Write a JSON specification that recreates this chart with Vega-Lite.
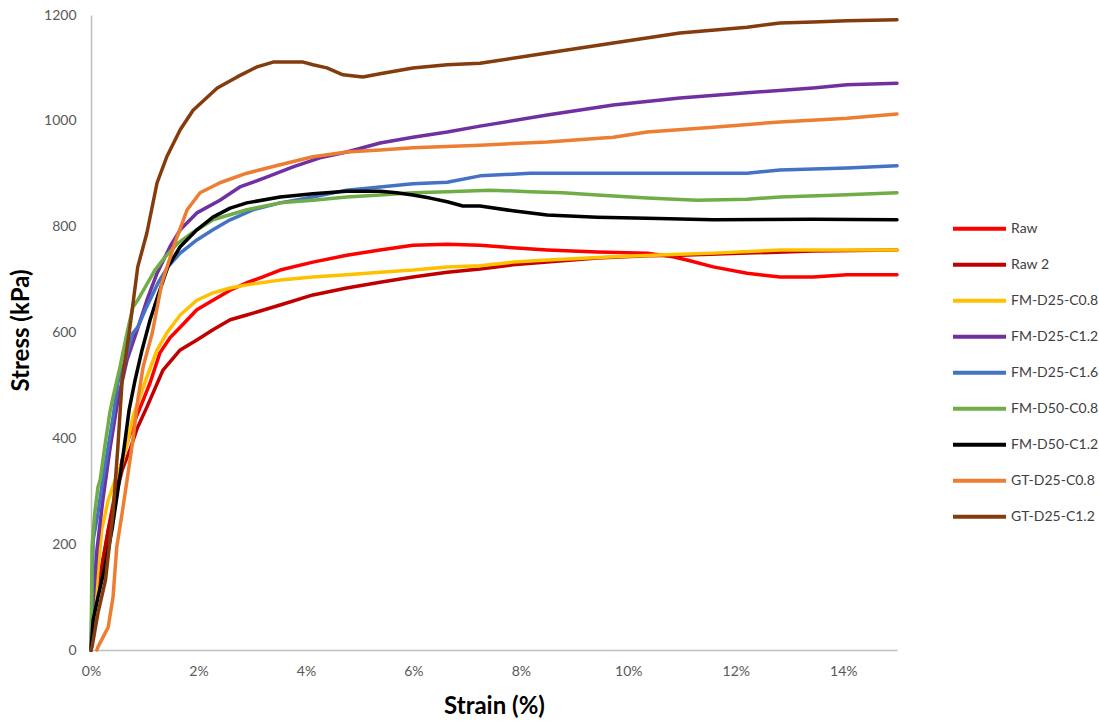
{
"$schema": "https://vega.github.io/schema/vega-lite/v6.json",
"width": 806, "height": 635,
"autosize": {"type": "none"},
"padding": {"left": 91, "top": 15, "right": 202, "bottom": 71},
"background": "white",
"config": {"font": "Lato", "view": {"stroke": null},
 "axis": {"grid": false, "ticks": false, "domainColor": "#bfbfbf", "domainWidth": 1.5, "labelColor": "#595959", "labelFontSize": 14, "labelFlush": false, "titleColor": "#000000", "titleFontSize": 24, "titleFontWeight": "bold"}},
"datasets": {
"raw": [
{"series":"Raw","strain":0,"stress":0},{"series":"Raw","strain":0.07,"stress":81},{"series":"Raw","strain":0.2,"stress":157},{"series":"Raw","strain":0.32,"stress":227},{"series":"Raw","strain":0.45,"stress":297},{"series":"Raw","strain":0.58,"stress":359},{"series":"Raw","strain":0.69,"stress":397},{"series":"Raw","strain":0.82,"stress":435},{"series":"Raw","strain":0.95,"stress":467},{"series":"Raw","strain":1.1,"stress":505},{"series":"Raw","strain":1.28,"stress":561},{"series":"Raw","strain":1.47,"stress":590},{"series":"Raw","strain":1.66,"stress":610},{"series":"Raw","strain":1.97,"stress":643},{"series":"Raw","strain":2.27,"stress":661},{"series":"Raw","strain":2.59,"stress":680},{"series":"Raw","strain":2.9,"stress":694},{"series":"Raw","strain":3.2,"stress":705},{"series":"Raw","strain":3.52,"stress":718},{"series":"Raw","strain":4.13,"stress":733},{"series":"Raw","strain":4.76,"stress":746},{"series":"Raw","strain":5.38,"stress":756},{"series":"Raw","strain":5.99,"stress":765},{"series":"Raw","strain":6.63,"stress":767},{"series":"Raw","strain":7.24,"stress":765},{"series":"Raw","strain":7.85,"stress":760},{"series":"Raw","strain":8.49,"stress":756},{"series":"Raw","strain":9.42,"stress":752},{"series":"Raw","strain":10.35,"stress":750},{"series":"Raw","strain":10.83,"stress":743},{"series":"Raw","strain":11.09,"stress":737},{"series":"Raw","strain":11.58,"stress":724},{"series":"Raw","strain":12.21,"stress":712},{"series":"Raw","strain":12.82,"stress":705},{"series":"Raw","strain":13.44,"stress":705},{"series":"Raw","strain":14.07,"stress":709},{"series":"Raw","strain":15,"stress":709},
{"series":"Raw 2","strain":0,"stress":0},{"series":"Raw 2","strain":0.07,"stress":76},{"series":"Raw 2","strain":0.19,"stress":151},{"series":"Raw 2","strain":0.32,"stress":225},{"series":"Raw 2","strain":0.45,"stress":287},{"series":"Raw 2","strain":0.58,"stress":340},{"series":"Raw 2","strain":0.73,"stress":380},{"series":"Raw 2","strain":0.86,"stress":419},{"series":"Raw 2","strain":1.04,"stress":459},{"series":"Raw 2","strain":1.34,"stress":529},{"series":"Raw 2","strain":1.66,"stress":567},{"series":"Raw 2","strain":1.97,"stress":586},{"series":"Raw 2","strain":2.27,"stress":605},{"series":"Raw 2","strain":2.59,"stress":624},{"series":"Raw 2","strain":2.9,"stress":633},{"series":"Raw 2","strain":3.52,"stress":652},{"series":"Raw 2","strain":4.13,"stress":671},{"series":"Raw 2","strain":4.76,"stress":684},{"series":"Raw 2","strain":5.38,"stress":695},{"series":"Raw 2","strain":5.99,"stress":705},{"series":"Raw 2","strain":6.63,"stress":714},{"series":"Raw 2","strain":7.24,"stress":720},{"series":"Raw 2","strain":7.85,"stress":728},{"series":"Raw 2","strain":8.49,"stress":733},{"series":"Raw 2","strain":9.42,"stress":741},{"series":"Raw 2","strain":10.35,"stress":745},{"series":"Raw 2","strain":10.96,"stress":746},{"series":"Raw 2","strain":12.21,"stress":750},{"series":"Raw 2","strain":13.44,"stress":754},{"series":"Raw 2","strain":15,"stress":756},
{"series":"FM-D25-C0.8","strain":0,"stress":0},{"series":"FM-D25-C0.8","strain":0.07,"stress":76},{"series":"FM-D25-C0.8","strain":0.13,"stress":151},{"series":"FM-D25-C0.8","strain":0.2,"stress":227},{"series":"FM-D25-C0.8","strain":0.32,"stress":283},{"series":"FM-D25-C0.8","strain":0.45,"stress":321},{"series":"FM-D25-C0.8","strain":0.58,"stress":353},{"series":"FM-D25-C0.8","strain":0.69,"stress":397},{"series":"FM-D25-C0.8","strain":0.78,"stress":440},{"series":"FM-D25-C0.8","strain":0.87,"stress":467},{"series":"FM-D25-C0.8","strain":1.04,"stress":516},{"series":"FM-D25-C0.8","strain":1.23,"stress":567},{"series":"FM-D25-C0.8","strain":1.41,"stress":599},{"series":"FM-D25-C0.8","strain":1.66,"stress":633},{"series":"FM-D25-C0.8","strain":1.97,"stress":661},{"series":"FM-D25-C0.8","strain":2.27,"stress":675},{"series":"FM-D25-C0.8","strain":2.59,"stress":684},{"series":"FM-D25-C0.8","strain":2.9,"stress":690},{"series":"FM-D25-C0.8","strain":3.52,"stress":699},{"series":"FM-D25-C0.8","strain":4.13,"stress":705},{"series":"FM-D25-C0.8","strain":4.76,"stress":709},{"series":"FM-D25-C0.8","strain":5.38,"stress":714},{"series":"FM-D25-C0.8","strain":5.99,"stress":718},{"series":"FM-D25-C0.8","strain":6.63,"stress":724},{"series":"FM-D25-C0.8","strain":7.24,"stress":726},{"series":"FM-D25-C0.8","strain":7.85,"stress":733},{"series":"FM-D25-C0.8","strain":8.49,"stress":737},{"series":"FM-D25-C0.8","strain":9.72,"stress":743},{"series":"FM-D25-C0.8","strain":10.96,"stress":748},{"series":"FM-D25-C0.8","strain":11.58,"stress":750},{"series":"FM-D25-C0.8","strain":12.82,"stress":756},{"series":"FM-D25-C0.8","strain":15,"stress":756},
{"series":"FM-D25-C1.2","strain":0,"stress":0},{"series":"FM-D25-C1.2","strain":0.04,"stress":94},{"series":"FM-D25-C1.2","strain":0.11,"stress":189},{"series":"FM-D25-C1.2","strain":0.22,"stress":283},{"series":"FM-D25-C1.2","strain":0.35,"stress":378},{"series":"FM-D25-C1.2","strain":0.5,"stress":472},{"series":"FM-D25-C1.2","strain":0.67,"stress":548},{"series":"FM-D25-C1.2","strain":0.86,"stress":605},{"series":"FM-D25-C1.2","strain":1.04,"stress":661},{"series":"FM-D25-C1.2","strain":1.23,"stress":712},{"series":"FM-D25-C1.2","strain":1.47,"stress":762},{"series":"FM-D25-C1.2","strain":1.66,"stress":794},{"series":"FM-D25-C1.2","strain":1.97,"stress":826},{"series":"FM-D25-C1.2","strain":2.4,"stress":850},{"series":"FM-D25-C1.2","strain":2.77,"stress":875},{"series":"FM-D25-C1.2","strain":3.28,"stress":894},{"series":"FM-D25-C1.2","strain":3.76,"stress":913},{"series":"FM-D25-C1.2","strain":4.26,"stress":930},{"series":"FM-D25-C1.2","strain":4.76,"stress":941},{"series":"FM-D25-C1.2","strain":5.38,"stress":958},{"series":"FM-D25-C1.2","strain":5.99,"stress":969},{"series":"FM-D25-C1.2","strain":6.63,"stress":979},{"series":"FM-D25-C1.2","strain":7.24,"stress":990},{"series":"FM-D25-C1.2","strain":8.49,"stress":1011},{"series":"FM-D25-C1.2","strain":9.72,"stress":1030},{"series":"FM-D25-C1.2","strain":10.96,"stress":1043},{"series":"FM-D25-C1.2","strain":12.21,"stress":1053},{"series":"FM-D25-C1.2","strain":13.44,"stress":1062},{"series":"FM-D25-C1.2","strain":14.07,"stress":1068},{"series":"FM-D25-C1.2","strain":15,"stress":1071},
{"series":"FM-D25-C1.6","strain":0,"stress":0},{"series":"FM-D25-C1.6","strain":0.02,"stress":94},{"series":"FM-D25-C1.6","strain":0.04,"stress":208},{"series":"FM-D25-C1.6","strain":0.13,"stress":259},{"series":"FM-D25-C1.6","strain":0.22,"stress":321},{"series":"FM-D25-C1.6","strain":0.32,"stress":384},{"series":"FM-D25-C1.6","strain":0.41,"stress":440},{"series":"FM-D25-C1.6","strain":0.5,"stress":505},{"series":"FM-D25-C1.6","strain":0.6,"stress":535},{"series":"FM-D25-C1.6","strain":0.69,"stress":567},{"series":"FM-D25-C1.6","strain":0.78,"stress":599},{"series":"FM-D25-C1.6","strain":0.87,"stress":610},{"series":"FM-D25-C1.6","strain":1.01,"stress":643},{"series":"FM-D25-C1.6","strain":1.25,"stress":694},{"series":"FM-D25-C1.6","strain":1.43,"stress":724},{"series":"FM-D25-C1.6","strain":1.66,"stress":750},{"series":"FM-D25-C1.6","strain":1.97,"stress":775},{"series":"FM-D25-C1.6","strain":2.27,"stress":794},{"series":"FM-D25-C1.6","strain":2.59,"stress":813},{"series":"FM-D25-C1.6","strain":3.02,"stress":832},{"series":"FM-D25-C1.6","strain":3.52,"stress":845},{"series":"FM-D25-C1.6","strain":4.13,"stress":856},{"series":"FM-D25-C1.6","strain":4.76,"stress":869},{"series":"FM-D25-C1.6","strain":5.38,"stress":875},{"series":"FM-D25-C1.6","strain":5.99,"stress":881},{"series":"FM-D25-C1.6","strain":6.63,"stress":884},{"series":"FM-D25-C1.6","strain":7.24,"stress":896},{"series":"FM-D25-C1.6","strain":8.17,"stress":901},{"series":"FM-D25-C1.6","strain":10.35,"stress":901},{"series":"FM-D25-C1.6","strain":12.21,"stress":901},{"series":"FM-D25-C1.6","strain":12.82,"stress":907},{"series":"FM-D25-C1.6","strain":14.07,"stress":911},{"series":"FM-D25-C1.6","strain":15,"stress":915},
{"series":"FM-D50-C0.8","strain":0,"stress":0},{"series":"FM-D50-C0.8","strain":0.01,"stress":94},{"series":"FM-D50-C0.8","strain":0.02,"stress":195},{"series":"FM-D50-C0.8","strain":0.07,"stress":259},{"series":"FM-D50-C0.8","strain":0.13,"stress":308},{"series":"FM-D50-C0.8","strain":0.17,"stress":321},{"series":"FM-D50-C0.8","strain":0.26,"stress":387},{"series":"FM-D50-C0.8","strain":0.35,"stress":448},{"series":"FM-D50-C0.8","strain":0.41,"stress":478},{"series":"FM-D50-C0.8","strain":0.54,"stress":535},{"series":"FM-D50-C0.8","strain":0.67,"stress":599},{"series":"FM-D50-C0.8","strain":0.78,"stress":648},{"series":"FM-D50-C0.8","strain":0.87,"stress":661},{"series":"FM-D50-C0.8","strain":1.01,"stress":686},{"series":"FM-D50-C0.8","strain":1.19,"stress":718},{"series":"FM-D50-C0.8","strain":1.38,"stress":743},{"series":"FM-D50-C0.8","strain":1.62,"stress":769},{"series":"FM-D50-C0.8","strain":1.88,"stress":788},{"series":"FM-D50-C0.8","strain":2.27,"stress":813},{"series":"FM-D50-C0.8","strain":2.9,"stress":832},{"series":"FM-D50-C0.8","strain":3.52,"stress":845},{"series":"FM-D50-C0.8","strain":4.13,"stress":850},{"series":"FM-D50-C0.8","strain":4.76,"stress":856},{"series":"FM-D50-C0.8","strain":5.38,"stress":860},{"series":"FM-D50-C0.8","strain":5.99,"stress":864},{"series":"FM-D50-C0.8","strain":6.63,"stress":866},{"series":"FM-D50-C0.8","strain":7.43,"stress":869},{"series":"FM-D50-C0.8","strain":8.17,"stress":866},{"series":"FM-D50-C0.8","strain":8.78,"stress":864},{"series":"FM-D50-C0.8","strain":9.42,"stress":860},{"series":"FM-D50-C0.8","strain":10.35,"stress":854},{"series":"FM-D50-C0.8","strain":11.28,"stress":850},{"series":"FM-D50-C0.8","strain":12.21,"stress":852},{"series":"FM-D50-C0.8","strain":12.82,"stress":856},{"series":"FM-D50-C0.8","strain":13.94,"stress":860},{"series":"FM-D50-C0.8","strain":15,"stress":864},
{"series":"FM-D50-C1.2","strain":0,"stress":0},{"series":"FM-D50-C1.2","strain":0.04,"stress":57},{"series":"FM-D50-C1.2","strain":0.13,"stress":100},{"series":"FM-D50-C1.2","strain":0.26,"stress":157},{"series":"FM-D50-C1.2","strain":0.39,"stress":227},{"series":"FM-D50-C1.2","strain":0.5,"stress":302},{"series":"FM-D50-C1.2","strain":0.61,"stress":378},{"series":"FM-D50-C1.2","strain":0.71,"stress":454},{"series":"FM-D50-C1.2","strain":0.82,"stress":510},{"series":"FM-D50-C1.2","strain":0.95,"stress":567},{"series":"FM-D50-C1.2","strain":1.1,"stress":624},{"series":"FM-D50-C1.2","strain":1.25,"stress":671},{"series":"FM-D50-C1.2","strain":1.43,"stress":724},{"series":"FM-D50-C1.2","strain":1.66,"stress":762},{"series":"FM-D50-C1.2","strain":1.97,"stress":794},{"series":"FM-D50-C1.2","strain":2.27,"stress":818},{"series":"FM-D50-C1.2","strain":2.59,"stress":835},{"series":"FM-D50-C1.2","strain":2.9,"stress":845},{"series":"FM-D50-C1.2","strain":3.52,"stress":856},{"series":"FM-D50-C1.2","strain":4.13,"stress":862},{"series":"FM-D50-C1.2","strain":4.76,"stress":867},{"series":"FM-D50-C1.2","strain":5.38,"stress":867},{"series":"FM-D50-C1.2","strain":5.69,"stress":864},{"series":"FM-D50-C1.2","strain":5.99,"stress":860},{"series":"FM-D50-C1.2","strain":6.31,"stress":854},{"series":"FM-D50-C1.2","strain":6.63,"stress":847},{"series":"FM-D50-C1.2","strain":6.92,"stress":839},{"series":"FM-D50-C1.2","strain":7.24,"stress":839},{"series":"FM-D50-C1.2","strain":7.85,"stress":830},{"series":"FM-D50-C1.2","strain":8.49,"stress":822},{"series":"FM-D50-C1.2","strain":9.42,"stress":818},{"series":"FM-D50-C1.2","strain":10.35,"stress":816},{"series":"FM-D50-C1.2","strain":11.58,"stress":813},{"series":"FM-D50-C1.2","strain":13.44,"stress":814},{"series":"FM-D50-C1.2","strain":15,"stress":813},
{"series":"GT-D25-C0.8","strain":0.11,"stress":0},{"series":"GT-D25-C0.8","strain":0.13,"stress":6},{"series":"GT-D25-C0.8","strain":0.32,"stress":43},{"series":"GT-D25-C0.8","strain":0.41,"stress":100},{"series":"GT-D25-C0.8","strain":0.48,"stress":195},{"series":"GT-D25-C0.8","strain":0.58,"stress":259},{"series":"GT-D25-C0.8","strain":0.69,"stress":334},{"series":"GT-D25-C0.8","strain":0.78,"stress":397},{"series":"GT-D25-C0.8","strain":0.87,"stress":472},{"series":"GT-D25-C0.8","strain":0.97,"stress":535},{"series":"GT-D25-C0.8","strain":1.14,"stress":599},{"series":"GT-D25-C0.8","strain":1.32,"stress":694},{"series":"GT-D25-C0.8","strain":1.56,"stress":769},{"series":"GT-D25-C0.8","strain":1.79,"stress":832},{"series":"GT-D25-C0.8","strain":2.03,"stress":864},{"series":"GT-D25-C0.8","strain":2.4,"stress":883},{"series":"GT-D25-C0.8","strain":2.9,"stress":901},{"series":"GT-D25-C0.8","strain":3.52,"stress":917},{"series":"GT-D25-C0.8","strain":4.13,"stress":932},{"series":"GT-D25-C0.8","strain":4.76,"stress":941},{"series":"GT-D25-C0.8","strain":5.38,"stress":945},{"series":"GT-D25-C0.8","strain":5.99,"stress":949},{"series":"GT-D25-C0.8","strain":7.24,"stress":954},{"series":"GT-D25-C0.8","strain":8.49,"stress":960},{"series":"GT-D25-C0.8","strain":9.72,"stress":969},{"series":"GT-D25-C0.8","strain":10.35,"stress":979},{"series":"GT-D25-C0.8","strain":11.58,"stress":988},{"series":"GT-D25-C0.8","strain":12.82,"stress":998},{"series":"GT-D25-C0.8","strain":14.07,"stress":1005},{"series":"GT-D25-C0.8","strain":15,"stress":1013},
{"series":"GT-D25-C1.2","strain":0,"stress":0},{"series":"GT-D25-C1.2","strain":0.02,"stress":6},{"series":"GT-D25-C1.2","strain":0.13,"stress":70},{"series":"GT-D25-C1.2","strain":0.27,"stress":132},{"series":"GT-D25-C1.2","strain":0.41,"stress":259},{"series":"GT-D25-C1.2","strain":0.5,"stress":384},{"series":"GT-D25-C1.2","strain":0.58,"stress":510},{"series":"GT-D25-C1.2","strain":0.71,"stress":599},{"series":"GT-D25-C1.2","strain":0.87,"stress":724},{"series":"GT-D25-C1.2","strain":1.04,"stress":788},{"series":"GT-D25-C1.2","strain":1.23,"stress":883},{"series":"GT-D25-C1.2","strain":1.41,"stress":932},{"series":"GT-D25-C1.2","strain":1.66,"stress":983},{"series":"GT-D25-C1.2","strain":1.9,"stress":1020},{"series":"GT-D25-C1.2","strain":2.35,"stress":1062},{"series":"GT-D25-C1.2","strain":2.72,"stress":1083},{"series":"GT-D25-C1.2","strain":3.09,"stress":1102},{"series":"GT-D25-C1.2","strain":3.39,"stress":1111},{"series":"GT-D25-C1.2","strain":3.95,"stress":1111},{"series":"GT-D25-C1.2","strain":4.13,"stress":1106},{"series":"GT-D25-C1.2","strain":4.39,"stress":1100},{"series":"GT-D25-C1.2","strain":4.69,"stress":1087},{"series":"GT-D25-C1.2","strain":5.06,"stress":1083},{"series":"GT-D25-C1.2","strain":5.38,"stress":1089},{"series":"GT-D25-C1.2","strain":5.99,"stress":1100},{"series":"GT-D25-C1.2","strain":6.63,"stress":1106},{"series":"GT-D25-C1.2","strain":7.24,"stress":1109},{"series":"GT-D25-C1.2","strain":8.49,"stress":1128},{"series":"GT-D25-C1.2","strain":9.72,"stress":1147},{"series":"GT-D25-C1.2","strain":10.96,"stress":1166},{"series":"GT-D25-C1.2","strain":12.21,"stress":1177},{"series":"GT-D25-C1.2","strain":12.82,"stress":1185},{"series":"GT-D25-C1.2","strain":13.44,"stress":1187},{"series":"GT-D25-C1.2","strain":14.07,"stress":1189},{"series":"GT-D25-C1.2","strain":15,"stress":1191}
]},
"data": {"name": "raw"},
"mark": {"type": "line", "strokeWidth": 3.5, "strokeJoin": "round", "strokeCap": "round"},
"encoding": {
 "x": {"field": "strain", "type": "quantitative", "scale": {"domain": [0, 15], "nice": false, "zero": false},
  "axis": {"values": [0, 2, 4, 6, 8, 10, 12, 14], "labelExpr": "datum.value + '%'", "title": "Strain (%)", "labelPadding": 14, "titleY": 56, "titleBaseline": "middle"}},
 "y": {"field": "stress", "type": "quantitative", "scale": {"domain": [0, 1200], "nice": false},
  "axis": {"values": [0, 200, 400, 600, 800, 1000, 1200], "format": "d", "title": "Stress (kPa)", "labelPadding": 15, "titleX": -70, "titleY": 315, "titleBaseline": "middle"}},
 "color": {"field": "series", "type": "nominal",
  "scale": {"domain": ["Raw", "Raw 2", "FM-D25-C0.8", "FM-D25-C1.2", "FM-D25-C1.6", "FM-D50-C0.8", "FM-D50-C1.2", "GT-D25-C0.8", "GT-D25-C1.2"],
   "range": ["#FF0000", "#C00000", "#FFC000", "#7030A0", "#4472C4", "#70AD47", "#000000", "#ED7D31", "#843C0C"]},
  "legend": {"title": null, "orient": "none", "legendX": 860, "legendY": 196, "symbolType": "stroke", "symbolSize": 2809, "symbolStrokeWidth": 4, "clipHeight": 35.4, "rowPadding": 0, "labelFontSize": 14, "labelColor": "#404040", "labelOffset": 3}}
}
}
